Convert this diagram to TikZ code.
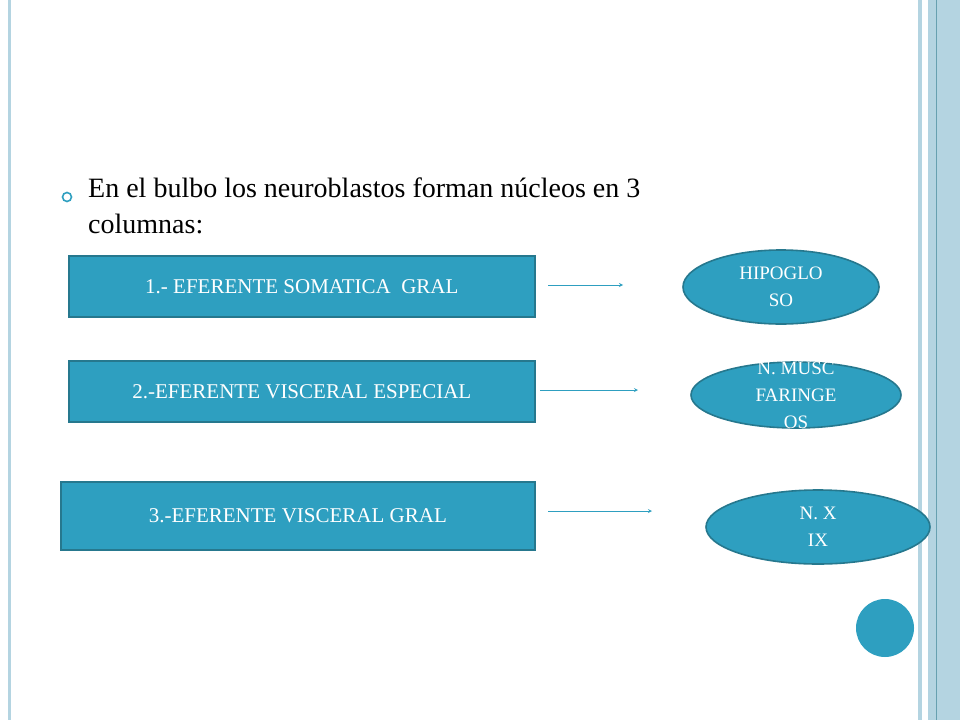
\documentclass[tikz,border=0pt]{standalone}
\usepackage{fontspec}
\setmainfont{Liberation Serif}
\usetikzlibrary{shapes.geometric, positioning}
\definecolor{boxblue}{HTML}{2E9FC0}
\definecolor{boxline}{HTML}{26788E}
\definecolor{paleblue}{HTML}{B4D4E1}
\tikzset{>=stealth,
  colbox/.style={draw=boxline, line width=1.6pt, fill=boxblue, text=white, anchor=north west,
    font=\fontsize{21}{24}\selectfont},
  nucleo/.style={ellipse, draw=boxline, line width=1.6pt, fill=boxblue, text=white,
    font=\fontsize{19}{27}\selectfont, align=center},
  flecha/.style={->, boxblue, line width=0.8pt}}
\begin{document}
\begin{tikzpicture}[x=1pt, y=-1pt]
\useasboundingbox (0,0) rectangle (960,720);
\fill[white] (0,0) rectangle (960,720);
% borders
\fill[paleblue] (8,0) rectangle (11,720);
\fill[paleblue] (918,0) rectangle (922,720);
\fill[paleblue] (928,0) rectangle (960,720);
\draw[boxline!70, line width=0.7pt] (936,0) -- (936,720);
\fill[boxblue] (885,628) circle (29);

% bullet
\draw[boxblue, line width=1.6pt] (67,197) circle (4.5);
\node[anchor=north west, align=left, font=\fontsize{28}{36}\selectfont, inner sep=0pt] (titulo) at (88,178)
  {En el bulbo los neuroblastos forman núcleos en 3\\columnas:};

\node[colbox, minimum width=466, minimum height=61] (B1) at (68,255) {1.- EFERENTE SOMATICA\ \ GRAL};
\node[colbox, minimum width=466, minimum height=61] (B2) at (68,360) {2.-EFERENTE VISCERAL ESPECIAL};
\node[colbox, minimum width=474, minimum height=68] (B3) at (60,481) {3.-EFERENTE VISCERAL GRAL};

\node[nucleo, minimum width=196, minimum height=74] (E1) at (781,287) {};
\node[font=\fontsize{19}{27}\selectfont, text=white, align=center] at (781,287) {HIPOGLO\\SO};
\node[nucleo, minimum width=210, minimum height=66] (E2) at (796,395) {};
\node[font=\fontsize{19}{27}\selectfont, text=white, align=center] at (796,395) {N. MUSC\\FARINGE\\OS};
\node[nucleo, minimum width=224, minimum height=74] (E3) at (818,527) {};
\node[font=\fontsize{19}{27}\selectfont, text=white, align=center] at (818,527) {N. X\\IX};

\coordinate (a1) at (548,285); \coordinate (b1) at (623,285);
\coordinate (a2) at (540,390); \coordinate (b2) at (638,390);
\coordinate (a3) at (548,511); \coordinate (b3) at (652,511);
\draw[flecha] (a1) -- (b1);
\draw[flecha] (a2) -- (b2);
\draw[flecha] (a3) -- (b3);
\end{tikzpicture}
\end{document}
